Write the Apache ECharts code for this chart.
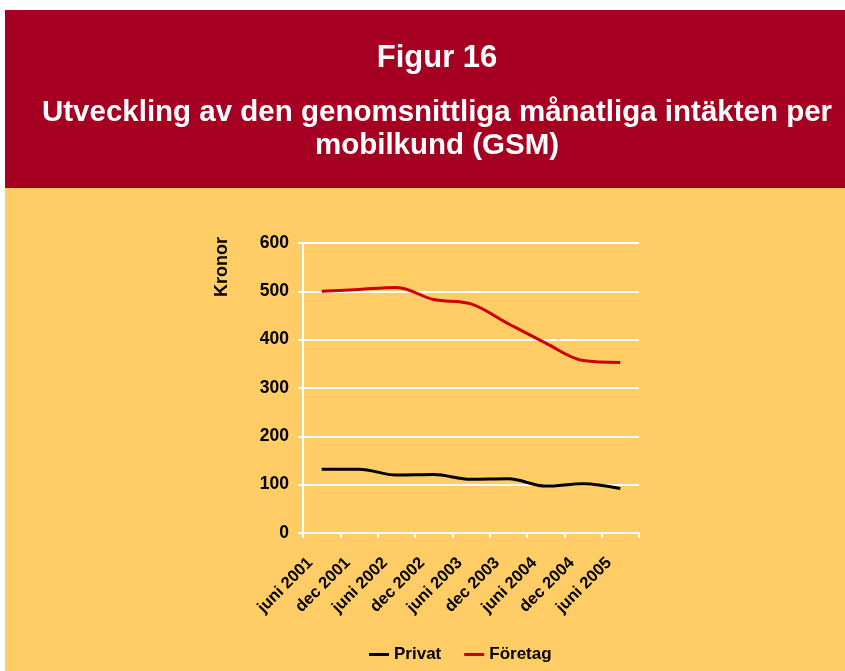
<!DOCTYPE html>
<html>
<head>
<meta charset="utf-8">
<script src="https://cdn.jsdelivr.net/npm/echarts@6/dist/echarts.min.js"></script>
<style>
html, body { margin: 0; padding: 0; background: #fff; }
#main { width: 845px; height: 671px; }
</style>
</head>
<body>
<div id="main"></div>
<script>
// data ------------------
var categories = ['juni 2001', 'dec 2001', 'juni 2002', 'dec 2002', 'juni 2003', 'dec 2003', 'juni 2004', 'dec 2004', 'juni 2005'];
var privat = [132, 132, 120, 121, 111, 112, 97, 102, 92];
var foretag = [500, 504, 508, 483, 474, 433, 393, 357, 353];
var yTicks = [0, 100, 200, 300, 400, 500, 600];

var myChart = echarts.init(document.getElementById('main'));
var font = 'Liberation Sans, Arial, sans-serif';

option = {
    backgroundColor: '#fff',
    animation: false,
    graphic: [
        { type: 'rect', z: -10, shape: { x: 5, y: 10, width: 840, height: 178 }, style: { fill: '#A50021' } },
        { type: 'rect', z: -10, shape: { x: 5, y: 188, width: 840, height: 483 }, style: { fill: '#FFCC66' } },
        { type: 'text', x: 222, y: 267, rotation: Math.PI / 2,
          style: { text: 'Kronor', fill: '#000', font: 'bold 18px ' + font, align: 'center', verticalAlign: 'middle' } }
    ],
    title: [
        { text: 'Figur 16', left: 432, top: 38, textAlign: 'center',
          textStyle: { color: '#fff', fontSize: 31, fontWeight: 'bold', fontFamily: font } },
        { text: 'Utveckling av den genomsnittliga månatliga intäkten per\nmobilkund (GSM)', left: 432, top: 91, textAlign: 'center',
          textStyle: { color: '#fff', fontSize: 29.5, fontWeight: 'bold', fontFamily: font, lineHeight: 33 } }
    ],
    legend: {
        data: ['Privat', 'Företag'],
        left: 369, top: 646, padding: 0,
        icon: 'rect', itemWidth: 20, itemHeight: 3, itemGap: 23,
        textStyle: { color: '#000', fontSize: 17, fontWeight: 'bold', fontFamily: font }
    },
    grid: { left: 303, top: 243, right: 206, bottom: 138 },
    xAxis: {
        type: 'category',
        data: categories,
        boundaryGap: true,
        axisLine: { lineStyle: { color: '#fff', width: 2 } },
        axisTick: { show: true, length: 5, lineStyle: { color: '#fff', width: 2 } },
        axisLabel: { rotate: 45, margin: 16, padding: [0, 16, 0, 0], color: '#000', fontSize: 16.5, fontWeight: 'bold', fontFamily: font, interval: 0 }
    },
    yAxis: {
        type: 'value',
        min: yTicks[0], max: yTicks[yTicks.length - 1], interval: 100,
        axisLine: { show: true, lineStyle: { color: '#fff', width: 2 } },
        axisTick: { show: true, length: 5, lineStyle: { color: '#fff', width: 2 } },
        splitLine: { lineStyle: { color: '#fff', width: 2 } },
        axisLabel: { margin: 14, color: '#000', fontSize: 17.5, fontWeight: 'bold', fontFamily: font }
    },
    series: [
        { name: 'Privat', type: 'line', data: privat, smooth: 0.35, symbol: 'none',
          lineStyle: { color: '#000', width: 3 }, itemStyle: { color: '#000' } },
        { name: 'Företag', type: 'line', data: foretag, smooth: 0.35, symbol: 'none',
          lineStyle: { color: '#CC0000', width: 3 }, itemStyle: { color: '#CC0000' } }
    ]
};
myChart.setOption(option);
</script>
</body>
</html>
